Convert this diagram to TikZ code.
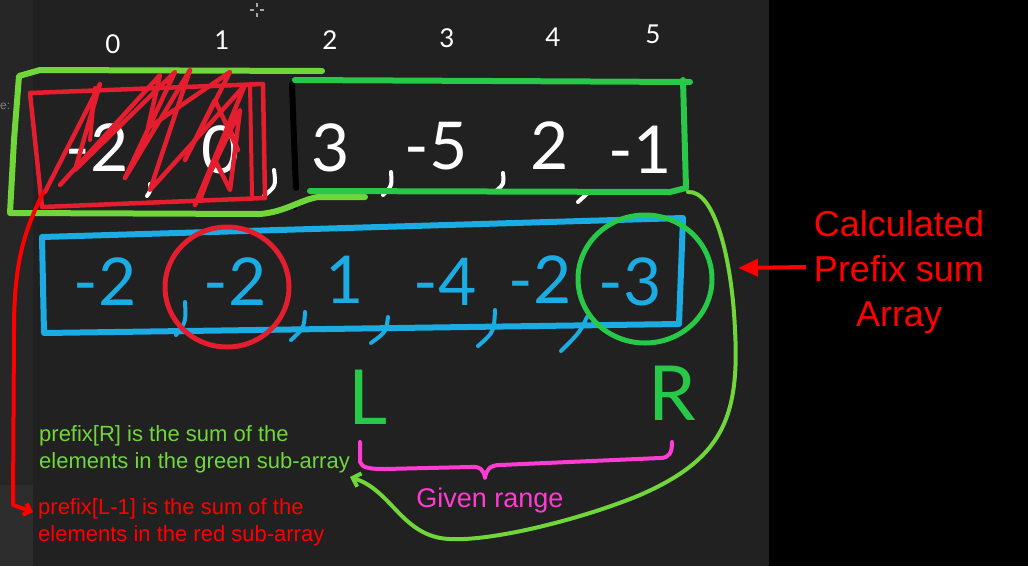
\documentclass[tikz,border=0pt]{standalone}
\usepackage{fontspec}
\setmainfont{Liberation Sans}
\newfontfamily\hand{Lato}
\usetikzlibrary{arrows.meta}
\definecolor{panel}{RGB}{33,33,33}
\definecolor{stripA}{RGB}{38,38,38}
\definecolor{stripB}{RGB}{45,45,45}
\definecolor{lgreen}{RGB}{112,214,58}
\definecolor{dgreen}{RGB}{40,200,72}
\definecolor{hblue}{RGB}{28,172,228}
\definecolor{hred}{RGB}{228,30,46}
\definecolor{pinkc}{RGB}{255,60,210}
\definecolor{txtgreen}{RGB}{112,214,58}
\tikzset{
  idx/.style={text=white, font=\hand\fontsize{26}{26}\selectfont, inner sep=0pt},
  wval/.style={text=white, font=\hand\fontsize{66}{66}\selectfont, inner sep=0pt},
  bval/.style={text=hblue, font=\hand\fontsize{66}{66}\selectfont, inner sep=0pt},
  wtick/.style={draw=white, line width=4pt, line cap=round},
  btick/.style={draw=hblue, line width=4pt, line cap=round},
  letter/.style={text=dgreen, font=\hand\fontsize{76}{76}\selectfont, inner sep=0pt},
  pen/.style={line width=6pt, line cap=round, line join=round},
  note/.style={font=\fontsize{22}{27}\selectfont, align=left, anchor=west, inner sep=0pt},
}
\begin{document}
\begin{tikzpicture}[x=1pt,y=-1pt]
\useasboundingbox (0,0) rectangle (1028,566);
\fill[black] (0,0) rectangle (1028,566);
\fill[panel] (0,0) rectangle (769,566);
\fill[stripA] (0,0) rectangle (33,485);
\fill[stripB] (0,485) rectangle (33,566);
% cursor
\draw[gray!70, line width=1.5pt] (250,10) -- (254,10) (260,10) -- (264,10) (257,3) -- (257,7) (257,13) -- (257,17);
\node[text=gray, font=\fontsize{12}{12}\selectfont, anchor=west, inner sep=0pt] (cut) at (0,106) {e:};

% indices
\node[idx] (i0) at (113,44) {0};
\node[idx] (i1) at (222,40) {1};
\node[idx] (i2) at (330,40) {2};
\node[idx] (i3) at (447,38) {3};
\node[idx] (i4) at (553,37) {4};
\node[idx] (i5) at (653,34) {5};

% original array values
\node[wval] (w0) at (97,148) {-2};
\node[wval] (w1) at (221,150) {0};
\node[wval] (w2) at (331,148) {3};
\node[wval] (w3) at (436,146) {-5};
\node[wval] (w4) at (550,146) {2};
\node[wval] (w5) at (640,150) {-1};
% handwritten commas
\draw[wtick] (150,184) .. controls (151,190) .. (147,196);
\draw[wtick] (274,170) .. controls (276,186) .. (264,196);
\draw[wtick] (391,172) .. controls (392,186) .. (383,195);
\draw[wtick] (503,173) .. controls (504,184) .. (497,190);
\draw[wtick] (590,191) -- (578,202);

% black stroke and dots
\draw[line width=6pt, line cap=round, black] (292,84) -- (294,140) -- (296,188);
\fill[black] (225,78) circle (2.5);
\fill[black] (295,208) circle (2);

% light green outline (left part)
\draw[pen, lgreen] (322,71) -- (40,70) -- (19,76) -- (14,140) -- (10,213) -- (260,214) .. controls (285,212) and (300,200) .. (318,197) -- (365,197);

% dark green box (right part)
\draw[pen, dgreen] (295,80) -- (690,82);
\draw[pen, dgreen] (683,80) -- (686,188) -- (670,192) -- (310,191);

% red box with scribbles
\draw[pen, hred, line width=4.5pt] (30,93) -- (263,84) -- (265,198) -- (42,207) -- cycle;
\draw[pen, hred, line width=4.5pt] (45,192) -- (100,84) -- (75,170) -- (175,72) -- (125,178) -- (190,70) -- (150,190) -- (245,85) -- (195,205) -- (240,110) -- (230,190) -- (215,160) -- (200,200);
\draw[pen, hred, line width=4.5pt] (60,185) -- (160,75) -- (148,128) -- (230,72) -- (185,160) -- (215,100) -- (238,150) -- (228,125);
\draw[pen, hred, line width=4pt] (95,88) -- (90,140) (250,84) -- (252,195);

% prefix sum array
\draw[pen, hblue] (42,237) -- (683,218) -- (679,324) -- (44,333) -- cycle;
\node[bval] (b0) at (105,282) {-2};
\node[bval] (b1) at (235,282) {-2};
\node[bval] (b2) at (345,280) {1};
\node[bval] (b3) at (445,282) {-4};
\node[bval] (b4) at (540,280) {-2};
\node[bval] (b5) at (630,282) {-3};
\draw[btick] (185,302) .. controls (186,322) .. (176,335);
\draw[btick] (305,312) .. controls (304,328) .. (291,340);
\draw[btick] (388,317) .. controls (386,332) .. (371,343);
\draw[btick] (495,310) .. controls (494,332) .. (478,346);
\draw[btick] (587,317) .. controls (580,332) .. (561,351);

% circles
\draw[line width=5pt, hred] (227,287) ellipse (62 and 60);
\draw[line width=5pt, dgreen] (645,279) ellipse (67 and 64);

% L and R
\node[letter] (L) at (368,397) {L};
\node[letter] (R) at (672,393) {R};

% pink brace
\draw[line width=4pt, pinkc, line cap=round, line join=round] (360,442) -- (360,462) .. controls (362,468) and (370,469) .. (385,469) -- (470,467) .. controls (480,466) and (484,470) .. (485,478) .. controls (486,470) and (490,465) .. (500,465) -- (660,458) .. controls (670,458) and (672,452) .. (672,442);
\node[text=pinkc, font=\fontsize{27}{27}\selectfont, inner sep=0pt] (given) at (490,501) {Given range};

% big green curve arrow
\coordinate (gstart) at (688,192);
\coordinate (gend) at (350,477);
\draw[line width=4pt, lgreen, line cap=round, -{Straight Barb[length=7pt,width=14pt]}] (gstart) .. controls (715,190) and (732,260) .. (735,330) .. controls (740,420) and (720,460) .. (640,495) .. controls (580,520) and (480,545) .. (440,538) .. controls (400,530) and (390,490) .. (gend);

% red arrow left
\coordinate (rstart) at (43,193);
\coordinate (rend) at (33,512);
\draw[line width=4pt, red, line cap=round, line join=round, -{Straight Barb[length=6pt,width=12pt]}] (rstart) .. controls (25,230) and (14,260) .. (14,330) -- (13,505) -- (rend);

% notes
\node[note, text=txtgreen] (gnote) at (39,449) {prefix[R] is the sum of the\\elements in the green sub-array};
\node[note, text=red] (rnote) at (38,522) {prefix[L-1] is the sum of the\\elements in the red sub-array};

% calculated label
\node[text=red, font=\fontsize{36}{45}\selectfont, align=center, inner sep=0pt] (calc) at (899,272) {Calculated\\Prefix sum\\Array};
\coordinate (aend) at (738,268);
\draw[line width=4pt, red, -{Triangle[length=20pt,width=17pt]}] (806,267) -- (aend);
\end{tikzpicture}
\end{document}
